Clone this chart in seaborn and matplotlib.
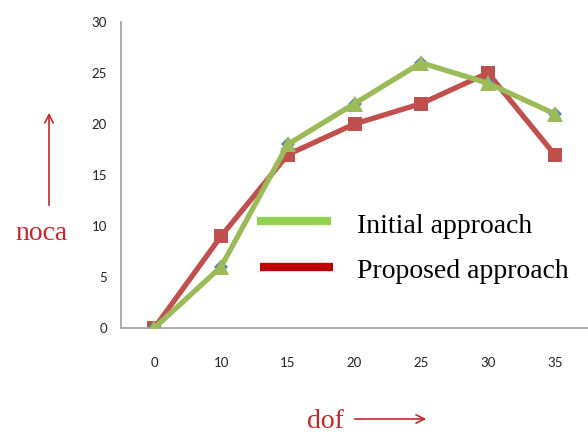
import matplotlib
matplotlib.use("Agg")
import matplotlib.pyplot as plt
from matplotlib.lines import Line2D
import pandas as pd
import seaborn as sns

# Degrees of freedom (categorical axis) and number of cases for each approach
dof = ["0", "10", "15", "20", "25", "30", "35"]
initial = [0, 6, 18, 22, 26, 24, 21]
proposed = [0, 9, 17, 20, 22, 25, 17]
y_ticks = [0, 5, 10, 15, 20, 25, 30]

df = pd.DataFrame({"dof": dof, "Initial approach": initial, "Proposed approach": proposed})

sns.set_style("white")
plt.rcParams["font.family"] = ["Lato", "DejaVu Sans"]

fig = plt.figure(figsize=(5.88, 4.33), dpi=100)
ax = fig.add_axes([0.2058, 0.2425, 0.7942, 0.7067])

red_line = "#C0504D"
green_line = "#9BBB59"
blue_mark = "#4F81BD"

sns.lineplot(data=df, x="dof", y="Proposed approach", ax=ax, color=red_line,
             linewidth=3.8, marker="s", markersize=10, markeredgewidth=0,
             sort=False, zorder=2)
sns.lineplot(data=df, x="dof", y="Initial approach", ax=ax, color=blue_mark,
             linewidth=0, marker="D", markersize=7, markeredgewidth=0,
             sort=False, zorder=2.5)
sns.lineplot(data=df, x="dof", y="Initial approach", ax=ax, color=green_line,
             linewidth=3.8, marker="^", markersize=11, markeredgewidth=0,
             sort=False, zorder=3)

ax.set_xlim(-0.5, 6.5)
ax.set_ylim(0, 30)
ax.set_yticks(y_ticks)
ax.set_xlabel("")
ax.set_ylabel("")
ax.tick_params(axis="both", length=0, labelsize=9.5, colors="#222222")
ax.tick_params(axis="x", pad=21)
ax.tick_params(axis="y", pad=10)
for side in ["top", "right"]:
    ax.spines[side].set_visible(False)
for side in ["left", "bottom"]:
    ax.spines[side].set_color("#A6A6A6")
    ax.spines[side].set_linewidth(1.3)

# Legend drawn as figure artists
serif = ["Liberation Serif", "DejaVu Serif"]
fig.lines.append(Line2D([257 / 588, 331 / 588], [1 - 221 / 433] * 2,
                        transform=fig.transFigure, color="#92D050", linewidth=6,
                        solid_capstyle="butt"))
fig.lines.append(Line2D([260 / 588, 333 / 588], [1 - 267 / 433] * 2,
                        transform=fig.transFigure, color="#C00000", linewidth=6,
                        solid_capstyle="butt"))
fig.text(357 / 588, 1 - 233 / 433, "Initial approach", family=serif, fontsize=20,
         color="black", ha="left", va="baseline")
fig.text(357 / 588, 1 - 278 / 433, "Proposed approach", family=serif, fontsize=20,
         color="black", ha="left", va="baseline")

# Axis titles with arrows
axis_red = "#C0282D"
fig.text(42 / 588, 1 - 240 / 433, "noca", family=serif, fontsize=20,
         color=axis_red, ha="center", va="baseline")
fig.text(325 / 588, 1 - 428 / 433, "dof", family=serif, fontsize=20,
         color=axis_red, ha="center", va="baseline")
fig.add_artist(matplotlib.patches.FancyArrowPatch(
    (49 / 588, 1 - 208 / 433), (49 / 588, 1 - 110 / 433),
    transform=fig.transFigure, arrowstyle="->,head_length=6,head_width=3",
    color=axis_red, linewidth=1.2))
fig.add_artist(matplotlib.patches.FancyArrowPatch(
    (352 / 588, 1 - 419 / 433), (429 / 588, 1 - 419 / 433),
    transform=fig.transFigure, arrowstyle="->,head_length=6,head_width=3",
    color=axis_red, linewidth=1.2))

fig.savefig("out.png", dpi=100)
